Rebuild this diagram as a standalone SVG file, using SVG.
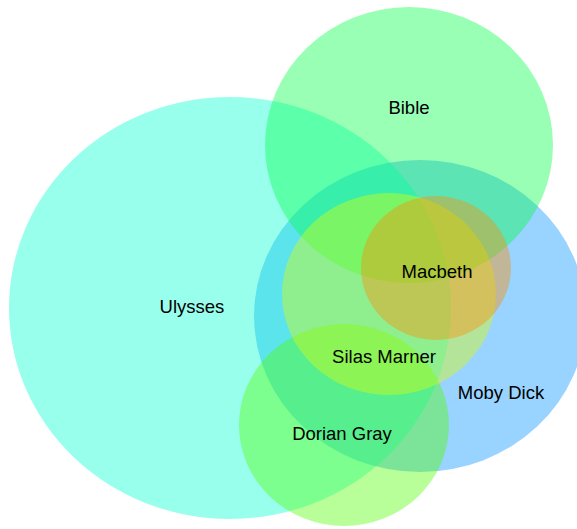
<svg xmlns="http://www.w3.org/2000/svg" width="577" height="529" viewBox="0 0 577 529">
<style>
.set{fill-opacity:0.4;stroke:none}
.lbl{font-family:"Liberation Sans",Arial,sans-serif;font-size:18.5px;fill:#000;text-anchor:middle}
</style>
<rect width="577" height="529" fill="#fff"/>
<g id="moby-dick"><ellipse class="set" cx="420" cy="316" rx="166" ry="156" fill="#0091ff"/></g>
<g id="ulysses"><ellipse class="set" cx="230" cy="308" rx="221" ry="211" fill="#00ffd2"/></g>
<g id="bible"><ellipse class="set" cx="409" cy="145" rx="144" ry="138" fill="#00ff46"/></g>
<g id="dorian-gray"><ellipse class="set" cx="344" cy="425" rx="105" ry="101" fill="#50ff00"/></g>
<g id="silas-marner"><ellipse class="set" cx="389" cy="294" rx="107" ry="101" fill="#dcff00"/></g>
<g id="macbeth"><ellipse class="set" cx="436" cy="268" rx="75" ry="72" fill="#ff8c00"/></g>
<g id="labels">
<text class="lbl" x="409" y="113.5">Bible</text>
<text class="lbl" x="192" y="313">Ulysses</text>
<text class="lbl" x="437" y="277.5">Macbeth</text>
<text class="lbl" x="384" y="362.5">Silas Marner</text>
<text class="lbl" x="501" y="398.5">Moby Dick</text>
<text class="lbl" x="342" y="439.5">Dorian Gray</text>
</g>
<g id="connectors"></g>
</svg>
